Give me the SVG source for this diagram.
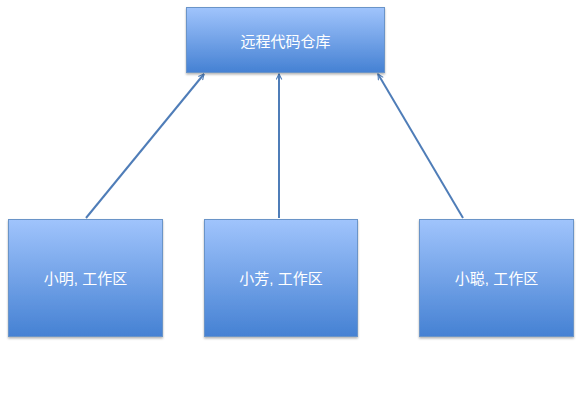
<svg xmlns="http://www.w3.org/2000/svg" width="585" height="411" viewBox="0 0 585 411">
<defs>
<linearGradient id="g" x1="0" y1="0" x2="0" y2="1">
<stop offset="0" stop-color="#a0c4fc"/>
<stop offset="1" stop-color="#4581d3"/>
</linearGradient>
<filter id="sh" x="-10%" y="-10%" width="120%" height="120%">
<feDropShadow dx="0" dy="1.5" stdDeviation="1" flood-color="#000" flood-opacity="0.3"/>
</filter>
<marker id="ah" viewBox="0 0 10 10" refX="9" refY="5" markerWidth="7" markerHeight="7" orient="auto" markerUnits="userSpaceOnUse">
<path d="M1,1 L9,5 L1,9" fill="none" stroke="#4f7db8" stroke-width="1.6"/>
</marker>
<style>
.box{fill:url(#g);stroke:#6a94c8;stroke-width:1;filter:url(#sh)}
.lbl{font-family:"Liberation Sans","Noto Sans CJK SC",sans-serif;font-size:15px;fill:#fff;text-anchor:middle;dominant-baseline:central}
.c{stroke:#4f7db8;stroke-width:2;fill:none;marker-end:url(#ah)}
</style>
</defs>
<rect width="585" height="411" fill="#fff"/>
<g id="connectors">
<line class="c" x1="86" y1="218" x2="204" y2="74"/>
<line class="c" x1="279" y1="218" x2="279" y2="74"/>
<line class="c" x1="463" y1="218" x2="378" y2="74"/>
</g>
<g id="repo">
<rect class="box" x="186.5" y="7.5" width="198" height="65"/>
<text class="lbl" x="285.5" y="41">远程代码仓库</text>
</g>
<g id="xiaoming">
<rect class="box" x="8.5" y="219.5" width="154" height="117"/>
<text class="lbl" x="85.5" y="278">小明, 工作区</text>
</g>
<g id="xiaofang">
<rect class="box" x="204.5" y="219.5" width="153" height="117"/>
<text class="lbl" x="281" y="278">小芳, 工作区</text>
</g>
<g id="xiaocong">
<rect class="box" x="419.5" y="219.5" width="154" height="117"/>
<text class="lbl" x="496.5" y="278">小聪, 工作区</text>
</g>
</svg>
